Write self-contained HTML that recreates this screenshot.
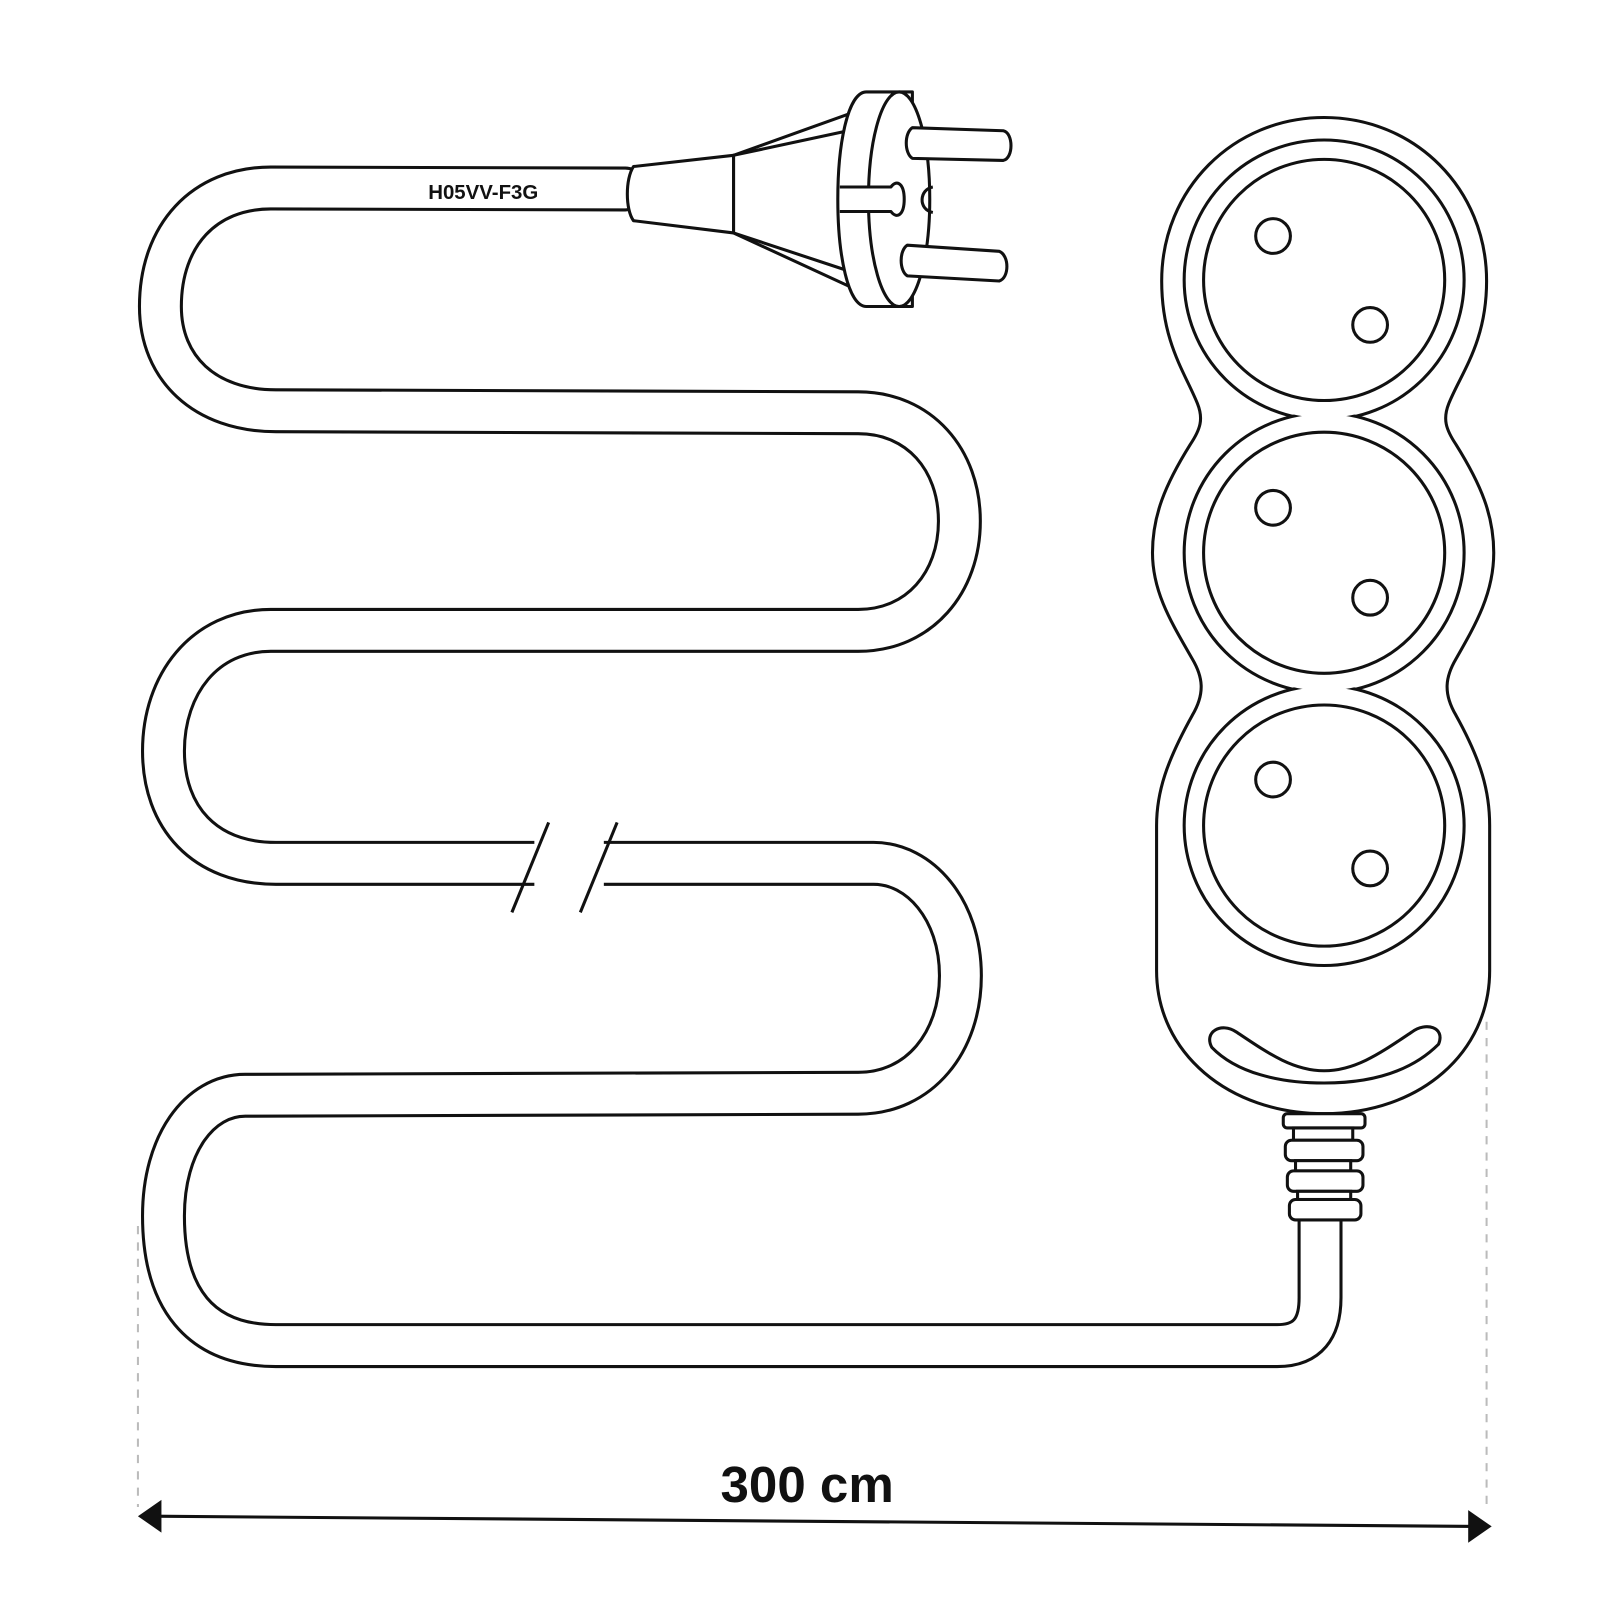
<!DOCTYPE html>
<html><head><style>html,body{margin:0;padding:0;background:#fff}svg{display:block}</style></head>
<body>
<svg width="1600" height="1600" viewBox="0 0 1566 1566" xmlns="http://www.w3.org/2000/svg">
<g fill="none" stroke-linecap="round" stroke-linejoin="round">
<path d="M612,185 L265,184 C200,184 157,230 157,300 C157,360 200,402 270,402 L840,404 C900,404 939,450 939,510 C939,570 900,617 840,617 L265,617 C200,617 160,670 160,735 C160,800 200,845 270,845 L855,845 C900,845 940,890 940,955 C940,1020 900,1070 840,1070 L240,1072 C195,1072 160,1120 160,1190 C160,1270 195,1317 270,1317 L1250,1317 C1280,1317 1292,1300 1292,1270 L1292,1190" stroke="#111" stroke-width="44"/>
<path d="M612,185 L265,184 C200,184 157,230 157,300 C157,360 200,402 270,402 L840,404 C900,404 939,450 939,510 C939,570 900,617 840,617 L265,617 C200,617 160,670 160,735 C160,800 200,845 270,845 L855,845 C900,845 940,890 940,955 C940,1020 900,1070 840,1070 L240,1072 C195,1072 160,1120 160,1190 C160,1270 195,1317 270,1317 L1250,1317 C1280,1317 1292,1300 1292,1270 L1292,1180" stroke="#fff" stroke-width="38"/>
</g>
<rect x="523" y="815" width="68" height="60" fill="#fff"/>
<g stroke="#111" stroke-width="3" fill="none">
<line x1="537" y1="805" x2="501" y2="893"/>
<line x1="604" y1="805" x2="568" y2="893"/>
</g>
<text x="473" y="195" font-family="Liberation Sans, sans-serif" font-weight="bold" font-size="20" text-anchor="middle" fill="#111">H05VV-F3G</text>
<!-- plug -->
<g stroke="#111" stroke-width="3" fill="#fff" stroke-linejoin="round">
<path d="M620,163 L718,152 L718,228 L620,216 C612,205 612,175 620,163 Z"/>
<path d="M718,152 L835,110 L835,282 L718,228 Z"/>
<path d="M718,152 L830,128 M718,228 L830,265" fill="none"/>
<path d="M848,90 L893,90 L893,300 L848,300 C830,300 820,250 820,195 C820,140 830,90 848,90 Z"/>
<ellipse cx="880" cy="195" rx="30" ry="105"/>
<path d="M822,183 L872,183 C878,175 885,180 885,195 C885,210 878,215 872,207 L822,207" />
<path d="M913,183 C900,185 898,205 913,208" fill="none"/>
<path d="M893,125 L982,128 C992,130 992,155 982,157 L893,155 C885,150 885,130 893,125 Z"/>
<path d="M888,240 L978,246 C988,250 988,272 978,275 L888,270 C880,265 880,245 888,240 Z"/>
</g>
<!-- power strip -->
<g stroke="#111" stroke-width="3" fill="#fff">
<path d="M1296,115 C1385,115 1455,185 1455,275 C1455,335 1430,365 1418,395 C1412,410 1415,420 1425,435 C1450,475 1462,505 1462,541 C1462,580 1445,610 1425,645 C1415,662 1412,678 1425,700 C1450,745 1458,775 1458,808 L1458,950 C1458,1030 1390,1090 1296,1090 C1202,1090 1132,1030 1132,950 L1132,808 C1132,775 1142,745 1167,700 C1180,678 1177,662 1167,645 C1147,610 1128,580 1128,541 C1128,505 1140,475 1165,435 C1175,420 1178,410 1172,395 C1160,365 1137,335 1137,275 C1137,185 1207,115 1296,115 Z"/>
<circle cx="1296" cy="274" r="137"/><circle cx="1296" cy="541" r="137"/><circle cx="1296" cy="808" r="137"/>
</g>
<g fill="#fff"><circle cx="1296" cy="274" r="135"/><circle cx="1296" cy="541" r="135"/><circle cx="1296" cy="808" r="135"/></g>
<g stroke="#111" stroke-width="3" fill="#fff">
<circle cx="1296" cy="274" r="118"/><circle cx="1296" cy="541" r="118"/><circle cx="1296" cy="808" r="118"/>
<circle cx="1246" cy="231" r="17"/><circle cx="1341" cy="318" r="17"/>
<circle cx="1246" cy="497" r="17"/><circle cx="1341" cy="585" r="17"/>
<circle cx="1246" cy="763" r="17"/><circle cx="1341" cy="850" r="17"/>
<path d="M1210,1010 C1240,1030 1265,1048 1296,1048 C1327,1048 1352,1030 1382,1010 C1395,1000 1415,1005 1408,1022 C1380,1050 1340,1060 1296,1060 C1252,1060 1210,1050 1186,1025 C1178,1010 1195,1000 1210,1010 Z"/>
<rect x="1256" y="1090" width="80" height="14" rx="4"/>
<rect x="1266" y="1104" width="58" height="12"/>
<rect x="1258" y="1116" width="76" height="20" rx="6"/>
<rect x="1268" y="1136" width="54" height="10"/>
<rect x="1260" y="1146" width="74" height="20" rx="6"/>
<rect x="1270" y="1166" width="52" height="8"/>
<rect x="1262" y="1174" width="70" height="20" rx="6"/>
</g>
<!-- dimension -->
<g stroke="#bbb" stroke-width="2" stroke-dasharray="8,8">
<line x1="135" y1="1200" x2="135" y2="1475"/>
<line x1="1455" y1="1000" x2="1455" y2="1480"/>
</g>
<line x1="150" y1="1484" x2="1445" y2="1494" stroke="#111" stroke-width="3"/>
<path d="M135,1484 L158,1468 L158,1500 Z" fill="#111"/>
<path d="M1460,1494 L1437,1478 L1437,1510 Z" fill="#111"/>
<text x="790" y="1470" font-family="Liberation Sans, sans-serif" font-weight="bold" font-size="50" text-anchor="middle" fill="#111">300 cm</text>
</svg>
</body></html>
